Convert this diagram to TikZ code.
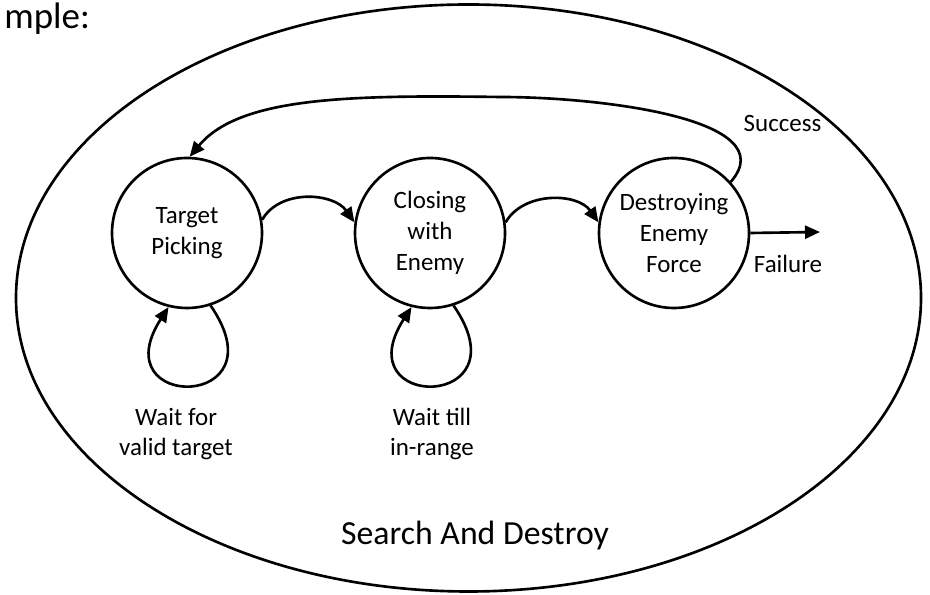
\documentclass[tikz,border=0pt]{standalone}
\usepackage{fontspec}
\setmainfont{Carlito}
\usetikzlibrary{arrows.meta}

\begin{document}
\begin{tikzpicture}[line width=1.5pt,
  state/.style={draw, circle, minimum size=3cm, inner sep=0pt, align=center,
    font=\fontsize{14.2}{17.6}\selectfont},
  note/.style={align=center, font=\fontsize{14.2}{17.2}\selectfont},
  >={Triangle[length=3mm,width=2.6mm]}]
  \useasboundingbox (0,0) rectangle (18.6,11.9);
  % outer state: Search And Destroy
  \draw (9.37,5.94) ellipse (9.05 and 5.87);
  \node[anchor=base west, font=\fontsize{21}{25}\selectfont, inner sep=0pt] (head) at (0.06,11.32) {mple:};
  \node[anchor=base, font=\fontsize{19.2}{22}\selectfont] (sad) at (9.5,1.0) {Search And Destroy};
  % the three inner states, 4.87 apart
  \node[state] (pick) at (3.74,7.24) {Target\\Picking};
  \node[state] (close) at (8.60,7.24) {Closing\\with\\Enemy};
  \node[state] (dest) at (13.48,7.24) {Destroying\\Enemy\\Force};
  % forward transitions
  \draw[->] (pick.10) to[out=60, in=125] (close.172);
  \draw[->] (close.8) to[out=60, in=125] (dest.172);
  % self loops under the first two states
  \draw[->] (pick.-72) .. controls +(1.45,-2.1) and +(-1.35,-2.1) .. (pick.-104);
  \draw[->] (close.-72) .. controls +(1.45,-2.1) and +(-1.35,-2.1) .. (close.-104);
  \node[note] (waitpick) at (3.52,3.22) {Wait for\\valid target};
  \node[note] (waitclose) at (8.64,3.22) {Wait till\\in-range};
  % success goes back to target picking
  \coordinate (succtop) at (10.0,9.96);
  \draw[->] (dest.42) .. controls +(1.1,1.26) and +(2.0,0) .. (succtop)
    .. controls +(-3.0,0.04) and +(1.0,1.2) .. (pick.88);
  \node[note, anchor=base] (succ) at (15.65,9.26) {Success};
  % failure leaves the outer state
  \coordinate (fail) at (16.40,7.26);
  \draw[->] (dest.east) -- (fail);
  \node[note, anchor=base] (failtxt) at (15.76,6.44) {Failure};
\end{tikzpicture}
\end{document}
